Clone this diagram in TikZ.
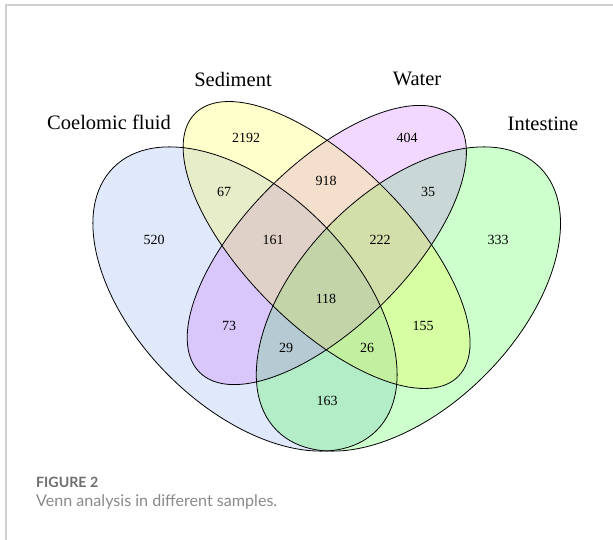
\documentclass[tikz,border=0pt]{standalone}
\usepackage{fontspec}
\setmainfont{Liberation Serif}
\newfontfamily\capfont{Lato}
\definecolor{cfblue}{RGB}{100,149,237}
\definecolor{vgreen}{RGB}{0,255,0}
\definecolor{vpurple}{RGB}{191,62,255}
\definecolor{vyellow}{RGB}{255,255,0}
\definecolor{framegray}{RGB}{208,208,208}
\definecolor{capgray}{RGB}{110,110,110}
\definecolor{textgray}{RGB}{138,138,138}
\tikzset{
  setfill/.style={fill=#1, fill opacity=0.2, draw=none},
  setline/.style={draw=black, line width=0.8pt, fill=none},
  setname/.style={font=\fontsize{20.5}{22}\selectfont, inner sep=0pt},
  count/.style={font=\fontsize{14}{16}\selectfont, inner sep=0pt},
  framestyle/.style={draw=framegray, line width=1.5pt},
}
% shape paths (pixel coordinates, y downwards)
\newcommand{\bluepath}{[rotate around={-45:(245,299)}] (245,299) ellipse [x radius=186, y radius=108]}
\newcommand{\greenpath}{[rotate around={45:(408.4,299)}] (408.4,299) ellipse [x radius=186, y radius=108]}
\newcommand{\yellowpath}{[rotate around={-45:(326.6,245)}] (326.6,245) ellipse [x radius=186, y radius=81]}
\newcommand{\purplepath}{[rotate around={45:(326.8,245)}] (326.8,245) ellipse [x radius=180, y radius=81]}
\begin{document}
\begin{tikzpicture}[x=1pt,y=-1pt]
\useasboundingbox (0,0) rectangle (613,540);
\fill[white] (0,0) rectangle (613,540);
% frame
\coordinate (frTL) at (6,5);
\coordinate (frTR) at (613,5);
\coordinate (frBL) at (6,540);
\draw[framestyle] (frTR) -- (frTL) -- (frBL);
% fills
\fill[setfill=cfblue] \bluepath;
\fill[setfill=vgreen] \greenpath;
\fill[setfill=vpurple] \purplepath;
\fill[setfill=vyellow] \yellowpath;
% outlines
\draw[setline] \bluepath;
\draw[setline] \greenpath;
\draw[setline] \purplepath;
\draw[setline] \yellowpath;
% set names
\node[setname] (nC) at (109,122) {Coelomic fluid};
\node[setname] (nS) at (233,79) {Sediment};
\node[setname] (nW) at (417,79) {Water};
\node[setname] (nI) at (543,124) {Intestine};
% counts
\node[count] (c2192) at (246,138) {2192};
\node[count] (c404) at (407,138) {404};
\node[count] (c67) at (224,192) {67};
\node[count] (c918) at (326,181) {918};
\node[count] (c35) at (428,192) {35};
\node[count] (c520) at (154,240) {520};
\node[count] (c161) at (273,240) {161};
\node[count] (c222) at (380,240) {222};
\node[count] (c333) at (498,240) {333};
\node[count] (c118) at (326,299) {118};
\node[count] (c73) at (229,326) {73};
\node[count] (c155) at (423,326) {155};
\node[count] (c29) at (286,348) {29};
\node[count] (c26) at (367,348) {26};
\node[count] (c163) at (327,401) {163};
% caption
\node[anchor=west, inner sep=0pt, text=capgray, font=\capfont\bfseries\fontsize{14.2}{16}\selectfont] (fig) at (36,482) {FIGURE 2};
\node[anchor=west, inner sep=0pt, text=textgray, font=\capfont\fontsize{16.1}{18}\selectfont] (cap) at (36,502) {Venn analysis in different samples.};
\end{tikzpicture}
\end{document}
